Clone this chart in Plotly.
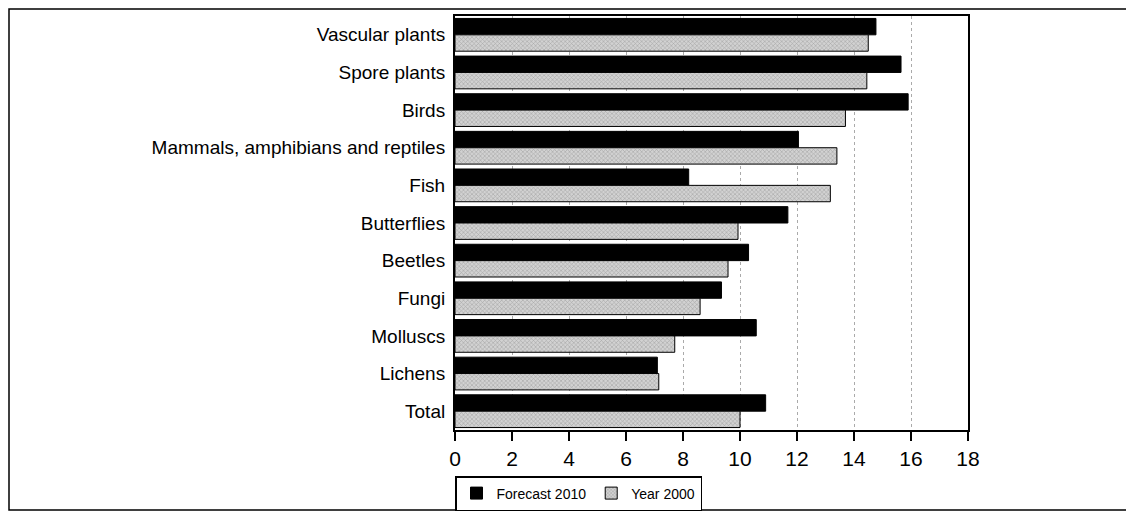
import plotly.graph_objects as go

categories = ["Vascular plants", "Spore plants", "Birds", "Mammals, amphibians and reptiles",
              "Fish", "Butterflies", "Beetles", "Fungi", "Molluscs", "Lichens", "Total"]
forecast_2010 = [14.77, 15.65, 15.9, 12.05, 8.2, 11.68, 10.3, 9.35, 10.57, 7.1, 10.9]
year_2000 = [14.5, 14.45, 13.7, 13.4, 13.17, 9.93, 9.58, 8.6, 7.71, 7.15, 10.0]
x_ticks = [0, 2, 4, 6, 8, 10, 12, 14, 16, 18]

fig = go.Figure()
fig.add_trace(go.Bar(
    y=categories, x=forecast_2010, orientation="h", name="Forecast 2010",
    marker=dict(color="black", line=dict(color="black", width=1)),
))
fig.add_trace(go.Bar(
    y=categories, x=year_2000, orientation="h", name="Year 2000",
    marker=dict(color="#cccccc", line=dict(color="black", width=1),
                pattern=dict(shape="x", size=3, solidity=0.35,
                             fgcolor="#777777", bgcolor="#d2d2d2")),
))

# page has an 8px body margin, so figure coords = page coords - 8
W, H = 1126, 504
L, T = 447, 8
pw, ph = 513, 414
R = W - L - pw
B = H - T - ph
base = H - B  # figure y of plot bottom

fig.update_layout(
    width=W, height=H,
    margin=dict(l=L, r=R, t=T, b=B, pad=0, autoexpand=False),
    paper_bgcolor="white", plot_bgcolor="white",
    barmode="group", bargap=0.13, bargroupgap=0.0,
    font=dict(family="Liberation Sans, Arial, sans-serif", color="black"),
    showlegend=True,
    legend=dict(orientation="h", x=0, xanchor="left", y=-46 / ph,
                yanchor="top", bordercolor="black", borderwidth=1.5,
                font=dict(size=14), bgcolor="white",
                itemwidth=30, tracegroupgap=0, traceorder="normal"),
    xaxis=dict(range=[0, 18], tickvals=x_ticks, ticktext=[str(v) for v in x_ticks],
               showgrid=True, gridcolor="#aaaaaa", griddash="dot", gridwidth=1,
               showline=True, linecolor="black", linewidth=2, mirror=True,
               ticks="outside", ticklen=9, tickcolor="black", tickwidth=1.5,
               tickfont=dict(size=21), ticklabelstandoff=0,
               zeroline=False, fixedrange=True),
    yaxis=dict(autorange="reversed", showline=True, linecolor="black", linewidth=2,
               mirror=True, ticks="", tickfont=dict(size=19), showgrid=False,
               ticklabelstandoff=4, fixedrange=True),
    shapes=[dict(type="rect", xref="paper", yref="paper",
                 x0=(1 - L) / pw, x1=(1120 - L) / pw,
                 y0=(base - 502) / ph, y1=(base - 1) / ph,
                 line=dict(color="black", width=1.5), fillcolor="rgba(0,0,0,0)",
                 layer="below")],
)

fig.write_html("out.html")
